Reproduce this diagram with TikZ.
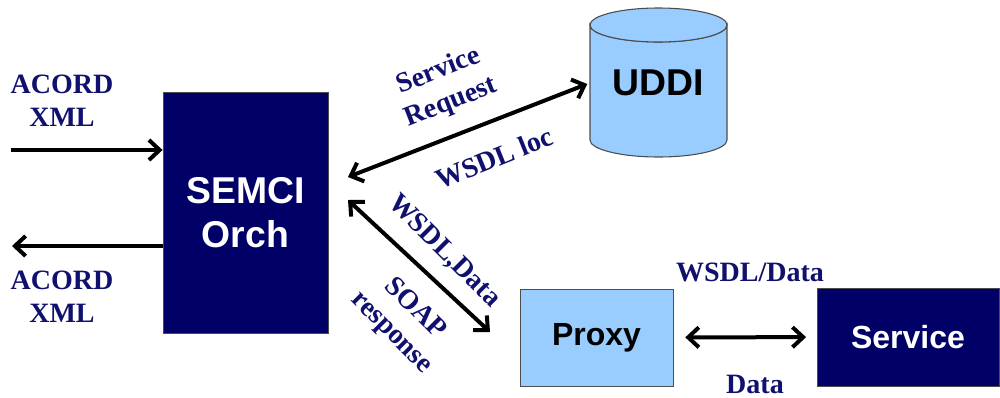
\documentclass[tikz,border=0pt]{standalone}
\usepackage{fontspec}
\setmainfont{Liberation Serif}
\setsansfont{Liberation Sans}
\usepackage{tikz}
\usetikzlibrary{arrows.meta,positioning,calc}
\definecolor{orchnavy}{HTML}{000066}
\definecolor{labnavy}{HTML}{10106E}
\definecolor{uddiblue}{HTML}{99CCFF}

\begin{document}
\begin{tikzpicture}[x=0.75pt,y=0.75pt,
    darkbox/.style={draw=black!70,fill=orchnavy,text=white,font=\sffamily\bfseries,align=center},
    lightbox/.style={draw=black!70,fill=uddiblue,text=black,font=\sffamily\bfseries,align=center},
    lbl/.style={text=labnavy,font=\fontsize{21}{25}\selectfont\bfseries,align=center,inner sep=0pt},
    arr/.style={line width=3pt,-{Straight Barb[length=8pt,width=15pt]}},
    arrtwo/.style={line width=3pt,{Straight Barb[length=8pt,width=15pt]}-{Straight Barb[length=8pt,width=15pt]}}]
  \useasboundingbox (0,0) rectangle (1000,-397);

  % boxes
  \node[darkbox,minimum width=124pt,minimum height=181pt,font=\sffamily\bfseries\fontsize{28}{33}\selectfont] (orch) at (245.5,-212.5) {SEMCI\\Orch};
  \node[lightbox,minimum width=114.75pt,minimum height=72.75pt,font=\sffamily\bfseries\fontsize{24}{28}\selectfont] (proxy) at (596.5,-337.5) {Proxy};
  \node[darkbox,minimum width=136.5pt,minimum height=73.5pt,font=\sffamily\bfseries\fontsize{24}{28}\selectfont] (service) at (908,-337) {Service};

  % UDDI cylinder
  \filldraw[fill=uddiblue,draw=black!70,line width=0.8pt] (590,-25) -- (590,-140) arc (180:360:68.5 and 17) -- (727,-25) arc (0:-180:68.5 and 17) -- cycle;
  \filldraw[fill=uddiblue,draw=black!70,line width=0.8pt] (658.5,-25) ellipse (68.5 and 17);
  \node[text=black,font=\sffamily\bfseries\fontsize{28}{32}\selectfont,minimum width=102.75pt,minimum height=111pt] (uddi) at (658.5,-83) {UDDI};

  % ACORD in/out
  \coordinate (acin) at (11,-150);
  \coordinate (acout) at (12,-246);
  \draw[arr] (acin) -- (acin -| orch.west);
  \draw[arr] (acout -| orch.west) -- (acout);
  \node[lbl] (acordin) at (62,-101) {ACORD\\XML};
  \node[lbl] (acordout) at (62,-297) {ACORD\\XML};

  % orch <-> uddi, orch <-> proxy
  \coordinate (toudd) at (348,-177);
  \coordinate (toprx) at (348,-200);
  \coordinate (prxend) at (490,-332);
  \draw[arrtwo,shorten >=2pt] (toudd) -- (uddi.west);
  \draw[arrtwo] (toprx) -- (prxend);
  \node[lbl,rotate=21.5] (sreq) at (445,-87) {Service\\Request};
  \node[lbl,rotate=22] (wloc) at (494,-158) {WSDL loc};
  \node[lbl,rotate=-45] (wdata) at (444,-251) {WSDL,Data};
  \node[lbl,rotate=-45] (soap) at (403,-321) {SOAP\\response};

  % proxy <-> service
  \draw[arrtwo,shorten <=9pt,shorten >=8pt] (proxy) -- (service);
  \node[lbl] (wsdata) at (750,-272) {WSDL/Data};
  \node[lbl] (dlab) at (755,-384) {Data};
\end{tikzpicture}
\end{document}
